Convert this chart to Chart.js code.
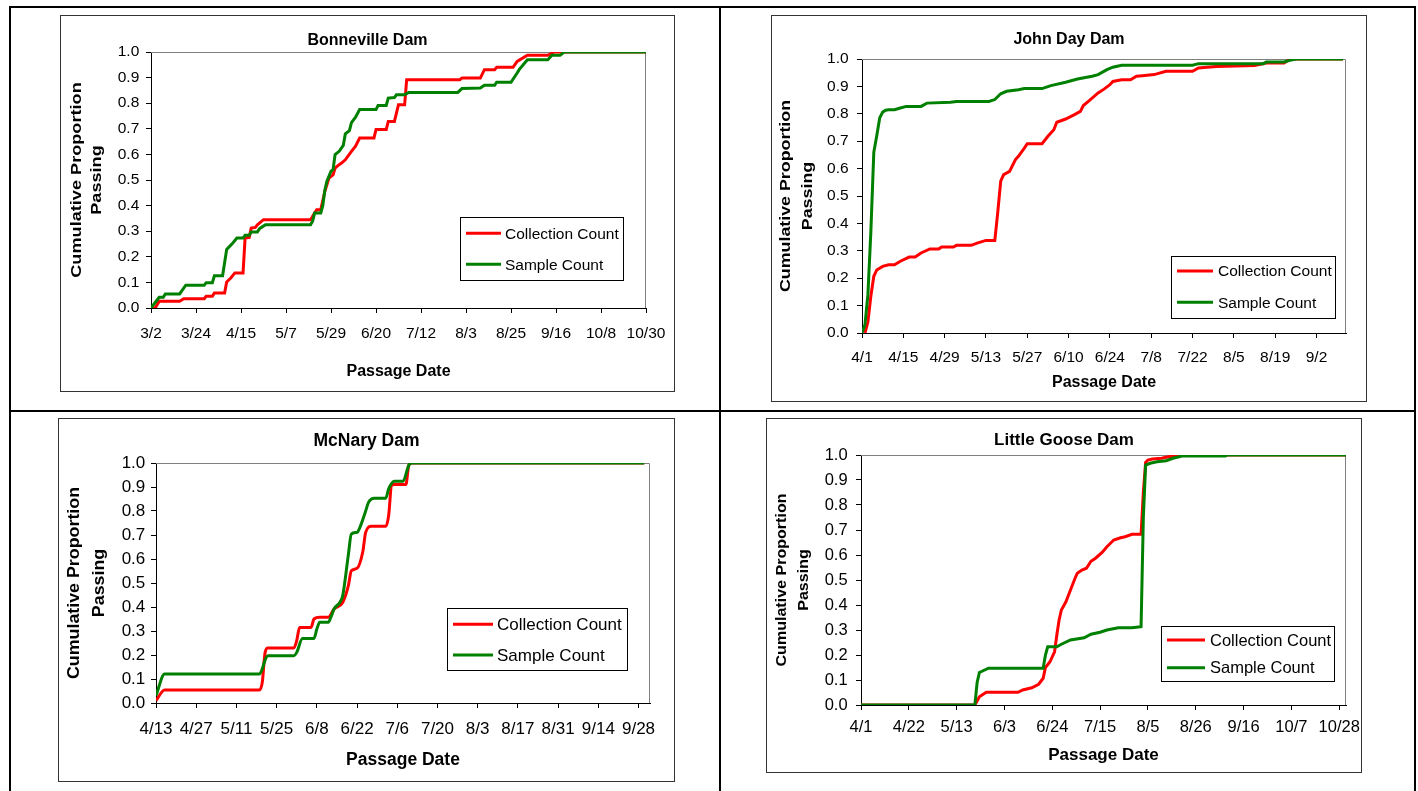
<!DOCTYPE html>
<html>
<head>
<meta charset="utf-8">
<title>Cumulative Proportion Passing</title>
<script src="https://cdn.jsdelivr.net/npm/chart.js@4.4.1/dist/chart.umd.min.js"></script>
<style>
  html, body { margin: 0; padding: 0; background: #fff; }
  body { position: relative; width: 1418px; height: 791px; overflow: hidden; }
  .rule { position: absolute; background: #000; }
  .frame { position: absolute; box-sizing: border-box; border: 1px solid #333; background: #fff; }
  .frame canvas { position: absolute; left: 0; top: 0; }
</style>
</head>
<body>
<div class="rule" style="left:9px;top:6px;width:2px;height:785px"></div>
<div class="rule" style="left:9px;top:6px;width:1407px;height:2px"></div>
<div class="rule" style="left:719px;top:6px;width:2px;height:785px"></div>
<div class="rule" style="left:1414px;top:6px;width:2px;height:785px"></div>
<div class="rule" style="left:9px;top:410px;width:1407px;height:2px"></div>

<script>
const FONT = "'Liberation Sans', Arial, sans-serif";

// ---- Bonneville Dam ----
const bonTicks = ['3/2', '3/24', '4/15', '5/7', '5/29', '6/20', '7/12', '8/3', '8/25', '9/16', '10/8', '10/30'];
const bonCollDates = ['3/2', '3/4', '3/6', '3/16', '3/18', '3/28', '3/29', '4/1', '4/2', '4/7', '4/8', '4/10', '4/12', '4/16', '4/17', '4/19', '4/20', '4/22', '4/23', '4/26', '5/19', '5/21', '5/22', '5/24', '5/26', '5/28', '5/30', '5/31', '6/2', '6/3', '6/5', '6/8', '6/10', '6/12', '6/19', '6/20', '6/25', '6/26', '6/29', '7/1', '7/4', '7/5', '7/31', '8/1', '8/10', '8/12', '8/17', '8/18', '8/26', '8/28', '9/2', '9/12', '9/15', '10/30'];
const bonCollValues = [0, 0, 0.026, 0.026, 0.036, 0.036, 0.046, 0.046, 0.059, 0.059, 0.102, 0.117, 0.137, 0.137, 0.273, 0.276, 0.312, 0.315, 0.325, 0.345, 0.345, 0.371, 0.384, 0.384, 0.456, 0.508, 0.52, 0.547, 0.56, 0.565, 0.579, 0.612, 0.632, 0.664, 0.664, 0.697, 0.697, 0.729, 0.729, 0.794, 0.794, 0.892, 0.892, 0.898, 0.898, 0.931, 0.931, 0.94, 0.94, 0.963, 0.987, 0.987, 1, 1];
const bonSampDates = ['3/2', '3/6', '3/8', '3/9', '3/16', '3/19', '3/28', '3/29', '4/1', '4/2', '4/6', '4/8', '4/11', '4/13', '4/16', '4/17', '4/19', '4/20', '4/23', '4/24', '4/25', '4/27', '5/19', '5/20', '5/21', '5/24', '5/25', '5/26', '5/27', '5/29', '5/30', '5/31', '6/2', '6/4', '6/5', '6/7', '6/8', '6/10', '6/12', '6/20', '6/21', '6/25', '6/26', '6/29', '6/30', '7/4', '7/6', '7/30', '8/1', '8/10', '8/12', '8/17', '8/18', '8/25', '8/28', '8/29', '9/2', '9/12', '9/14', '9/18', '9/20', '10/30'];
const bonSampValues = [0, 0.042, 0.042, 0.055, 0.055, 0.089, 0.089, 0.099, 0.099, 0.126, 0.126, 0.229, 0.254, 0.273, 0.273, 0.284, 0.284, 0.297, 0.297, 0.309, 0.315, 0.325, 0.325, 0.339, 0.371, 0.371, 0.401, 0.461, 0.495, 0.534, 0.54, 0.599, 0.612, 0.635, 0.68, 0.693, 0.724, 0.745, 0.775, 0.775, 0.791, 0.791, 0.82, 0.822, 0.833, 0.833, 0.842, 0.842, 0.857, 0.859, 0.87, 0.87, 0.882, 0.882, 0.918, 0.931, 0.97, 0.97, 0.987, 0.987, 1, 1];

// ---- John Day Dam ----
const jdTicks = ['4/1', '4/15', '4/29', '5/13', '5/27', '6/10', '6/24', '7/8', '7/22', '8/5', '8/19', '9/2'];
const jdCollDates = ['4/2', '4/3', '4/4', '4/5', '4/6', '4/8', '4/10', '4/12', '4/14', '4/17', '4/19', '4/21', '4/24', '4/27', '4/28', '5/2', '5/3', '5/8', '5/10', '5/13', '5/16', '5/17', '5/18', '5/19', '5/21', '5/23', '5/24', '5/26', '5/27', '6/1', '6/3', '6/5', '6/6', '6/9', '6/12', '6/14', '6/15', '6/17', '6/20', '6/22', '6/24', '6/25', '6/28', '7/1', '7/3', '7/5', '7/9', '7/13', '7/22', '7/24', '7/30', '8/12', '8/16', '8/22', '8/24', '9/11'];
const jdCollValues = [0, 0.04, 0.135, 0.207, 0.23, 0.243, 0.249, 0.249, 0.262, 0.277, 0.277, 0.292, 0.307, 0.307, 0.314, 0.314, 0.32, 0.32, 0.328, 0.338, 0.338, 0.44, 0.554, 0.578, 0.59, 0.633, 0.645, 0.675, 0.691, 0.691, 0.718, 0.742, 0.769, 0.781, 0.797, 0.809, 0.83, 0.848, 0.876, 0.89, 0.906, 0.918, 0.924, 0.924, 0.937, 0.939, 0.943, 0.955, 0.955, 0.967, 0.973, 0.976, 0.985, 0.985, 1, 1];
const jdSampDates = ['4/1', '4/2', '4/3', '4/4', '4/5', '4/6', '4/7', '4/8', '4/9', '4/10', '4/12', '4/14', '4/16', '4/21', '4/23', '5/1', '5/3', '5/14', '5/16', '5/18', '5/20', '5/24', '5/26', '6/1', '6/4', '6/9', '6/13', '6/18', '6/20', '6/23', '6/25', '6/28', '7/22', '7/24', '8/15', '8/16', '8/22', '8/24', '8/26', '9/11'];
const jdSampValues = [0, 0.03, 0.14, 0.37, 0.66, 0.72, 0.785, 0.806, 0.813, 0.815, 0.815, 0.821, 0.827, 0.827, 0.839, 0.842, 0.845, 0.845, 0.852, 0.873, 0.882, 0.888, 0.892, 0.892, 0.903, 0.915, 0.927, 0.937, 0.943, 0.961, 0.97, 0.977, 0.977, 0.983, 0.983, 0.989, 0.989, 0.995, 1, 1];

// ---- McNary Dam ----
const mcTicks = ['4/13', '4/27', '5/11', '5/25', '6/8', '6/22', '7/6', '7/20', '8/3', '8/17', '8/31', '9/14', '9/28'];
const mcCollDates = ['4/13', '4/16', '5/19', '5/20', '5/21', '5/22', '5/31', '6/1', '6/2', '6/6', '6/7', '6/9', '6/12', '6/14', '6/17', '6/19', '6/20', '6/22', '6/24', '6/25', '6/27', '7/2', '7/3', '7/4', '7/5', '7/9', '7/10', '7/11', '9/30'];
const mcCollValues = [0.01, 0.054, 0.054, 0.086, 0.211, 0.229, 0.229, 0.26, 0.315, 0.315, 0.35, 0.357, 0.357, 0.392, 0.419, 0.49, 0.551, 0.561, 0.63, 0.711, 0.736, 0.736, 0.781, 0.906, 0.91, 0.91, 0.99, 1, 1];
const mcSampDates = ['4/13', '4/16', '5/19', '5/20', '5/21', '5/22', '5/31', '6/1', '6/3', '6/7', '6/8', '6/9', '6/12', '6/13', '6/14', '6/16', '6/17', '6/19', '6/20', '6/22', '6/23', '6/25', '6/26', '6/28', '7/2', '7/3', '7/5', '7/8', '7/10', '7/11', '9/30'];
const mcSampValues = [0.031, 0.121, 0.121, 0.142, 0.18, 0.197, 0.197, 0.211, 0.269, 0.269, 0.308, 0.336, 0.336, 0.361, 0.392, 0.419, 0.447, 0.62, 0.704, 0.711, 0.732, 0.8, 0.836, 0.853, 0.853, 0.892, 0.924, 0.924, 0.99, 1, 1];

// ---- Little Goose Dam ----
const lgTicks = ['4/1', '4/22', '5/13', '6/3', '6/24', '7/15', '8/5', '8/26', '9/16', '10/7', '10/28'];
const lgCollDates = ['4/1', '5/21', '5/23', '5/26', '6/9', '6/11', '6/15', '6/18', '6/20', '6/21', '6/23', '6/25', '6/26', '6/27', '6/28', '6/30', '7/2', '7/4', '7/5', '7/7', '7/9', '7/11', '7/13', '7/16', '7/18', '7/21', '7/24', '7/26', '7/29', '8/2', '8/3', '8/4', '8/5', '8/7', '8/11', '8/14', '8/20', '10/31'];
const lgCollValues = [0, 0, 0.033, 0.051, 0.051, 0.06, 0.069, 0.083, 0.107, 0.15, 0.173, 0.213, 0.28, 0.34, 0.38, 0.413, 0.46, 0.507, 0.527, 0.54, 0.547, 0.575, 0.587, 0.611, 0.633, 0.66, 0.669, 0.673, 0.683, 0.683, 0.85, 0.97, 0.98, 0.984, 0.987, 0.993, 1, 1];
const lgSampDates = ['4/1', '5/21', '5/22', '5/23', '5/27', '6/20', '6/21', '6/22', '6/26', '6/28', '7/2', '7/8', '7/11', '7/15', '7/18', '7/23', '7/29', '8/2', '8/3', '8/4', '8/6', '8/9', '8/13', '8/16', '8/20', '9/8', '9/9', '10/31'];
const lgSampValues = [0, 0, 0.09, 0.13, 0.147, 0.147, 0.2, 0.233, 0.233, 0.243, 0.26, 0.269, 0.283, 0.291, 0.3, 0.309, 0.309, 0.313, 0.75, 0.96, 0.967, 0.973, 0.977, 0.987, 0.996, 0.996, 1, 1];

// month/day -> day of year (x axis is days)
const monthStart = [0, 31, 59, 90, 120, 151, 181, 212, 243, 273, 304, 334];
function toDay(md) {
  const [m, d] = md.split('/').map(Number);
  return monthStart[m - 1] + d;
}
function points(dates, values) {
  return dates.map((d, i) => ({ x: toDay(d), y: values[i] }));
}

// plot border, y axis title and in-plot legend
const decor = {
  id: 'decor',
  beforeDatasetsDraw(chart, args, o) {
    const a = chart.chartArea, ctx = chart.ctx;
    ctx.save();
    ctx.strokeStyle = '#808080';
    ctx.lineWidth = 1;
    ctx.beginPath();
    ctx.moveTo(a.left, a.top + 0.5);
    ctx.lineTo(a.right - 0.5, a.top + 0.5);
    ctx.lineTo(a.right - 0.5, a.bottom);
    ctx.stroke();
    ctx.restore();
  },
  afterDraw(chart, args, o) {
    const a = chart.chartArea, ctx = chart.ctx;
    ctx.save();
    ctx.fillStyle = '#000';
    ctx.font = 'bold ' + o.yTitleSize + 'px ' + FONT;
    ctx.textAlign = 'center';
    ctx.textBaseline = 'middle';
    const cy = (a.top + a.bottom) / 2;
    o.yTitle.forEach((line, i) => {
      ctx.save();
      ctx.translate(o.yTitleX[i], cy);
      ctx.rotate(-Math.PI / 2);
      ctx.scale(o.yTitleStretch, 1);
      ctx.fillText(line, 0, 0);
      ctx.restore();
    });

    const L = o.legend;
    ctx.fillStyle = '#fff';
    ctx.fillRect(L.l, L.t, L.r - L.l, L.b - L.t);
    ctx.strokeStyle = '#000';
    ctx.lineWidth = 1;
    ctx.strokeRect(Math.round(L.l) + 0.5, Math.round(L.t) + 0.5, Math.round(L.r - L.l), Math.round(L.b - L.t));
    ctx.font = L.size + 'px ' + FONT;
    ctx.textAlign = 'left';
    chart.data.datasets.forEach((ds, i) => {
      const y = L.rows[i];
      ctx.strokeStyle = ds.borderColor;
      ctx.lineWidth = ds.borderWidth;
      ctx.beginPath();
      ctx.moveTo(L.x0, y);
      ctx.lineTo(L.x1, y);
      ctx.stroke();
      ctx.fillStyle = '#000';
      ctx.fillText(ds.label, L.textX, y + 1);
    });
    ctx.restore();
  }
};

function buildChart(cfg) {
  const f = cfg.frame;
  const box = document.createElement('div');
  box.className = 'frame';
  box.style.left = f.x + 'px';
  box.style.top = f.y + 'px';
  box.style.width = f.w + 'px';
  box.style.height = f.h + 'px';
  const cv = document.createElement('canvas');
  const W = f.w - 2, H = f.h - 2, ox = f.x + 1, oy = f.y + 1;
  cv.width = W;
  cv.height = H;
  box.appendChild(cv);
  document.body.appendChild(box);

  const p = {
    l: Math.round(cfg.plot.l - ox), t: Math.round(cfg.plot.t - oy),
    r: Math.round(cfg.plot.r - ox), b: Math.round(cfg.plot.b - oy)
  };
  const tickDays = cfg.ticks.map(toDay);
  const labelOf = {};
  cfg.ticks.forEach(t => { labelOf[toDay(t)] = t; });
  const fs = cfg.fonts;
  const tickLH = fs.tick * 1.2, titleLH = fs.title * 1.2, axisLH = fs.axis * 1.2;
  const titleY = cfg.titleY - oy;
  const lg = cfg.legend;

  const line = (label, pts, color, order) => ({
    label, data: pts, borderColor: color, backgroundColor: color,
    borderWidth: 3, pointRadius: 0, fill: false, order,
    tension: cfg.smooth ? 0.4 : 0,
    cubicInterpolationMode: cfg.smooth ? 'monotone' : 'default'
  });

  new Chart(cv, {
    type: 'line',
    data: {
      datasets: [
        line('Collection Count', points(cfg.coll[0], cfg.coll[1]), '#ff0000', 1),
        line('Sample Count', points(cfg.samp[0], cfg.samp[1]), '#008000', 0)
      ]
    },
    options: {
      responsive: false,
      animation: false,
      devicePixelRatio: 1,
      layout: { padding: 0 },
      plugins: {
        legend: { display: false },
        tooltip: { enabled: false },
        title: {
          display: true, text: cfg.title, color: '#000',
          font: { family: FONT, size: fs.title, weight: 'bold' },
          padding: { top: titleY - titleLH / 2, bottom: p.t - titleY - titleLH / 2 }
        },
        decor: {
          yTitle: ['Cumulative Proportion', 'Passing'],
          yTitleX: cfg.yTitleX.map(v => v - ox),
          yTitleSize: fs.yTitle,
          yTitleStretch: cfg.yStretch,
          legend: {
            l: lg.l - ox, t: lg.t - oy, r: lg.r - ox, b: lg.b - oy,
            x0: lg.x0 - ox, x1: lg.x1 - ox, textX: lg.textX - ox,
            rows: lg.rows.map(v => v - oy), size: fs.legend
          }
        }
      },
      scales: {
        x: {
          type: 'linear',
          min: toDay(cfg.xMin), max: toDay(cfg.xMax),
          afterBuildTicks: s => { s.ticks = tickDays.map(v => ({ value: v })); },
          afterFit: s => { s.height = H - p.b; s.paddingLeft = 0; s.paddingRight = 0; },
          ticks: {
            callback: v => labelOf[v], color: '#000', autoSkip: false, maxRotation: 0,
            font: { family: FONT, size: fs.tick },
            padding: cfg.xLabelY - cfg.plot.b - 5 - tickLH / 2
          },
          grid: { drawOnChartArea: false, tickLength: 5, color: '#000' },
          border: { color: '#000', width: 1 },
          title: {
            display: true, text: 'Passage Date', color: '#000',
            font: { family: FONT, size: fs.axis, weight: 'bold' },
            padding: { top: 0, bottom: (f.y + f.h - 1) - cfg.xTitleY - axisLH / 2 }
          }
        },
        y: {
          min: 0, max: 1,
          afterFit: s => { s.width = p.l; s.paddingTop = 0; s.paddingBottom = 0; },
          ticks: {
            stepSize: 0.1, autoSkip: false, color: '#000',
            callback: v => v.toFixed(1),
            font: { family: FONT, size: fs.tick },
            padding: cfg.plot.l - cfg.yTickRight - 5
          },
          grid: { drawOnChartArea: false, tickLength: 5, color: '#000' },
          border: { color: '#000', width: 1 }
        },
        // empty right-hand box: keeps the margin right of the plot while the title stays centred on the frame
        margin: {
          type: 'linear', position: 'right', min: 0, max: 1,
          afterFit: s => { s.width = W - p.r; s.paddingTop = 0; s.paddingBottom = 0; },
          ticks: { display: false },
          grid: { display: false },
          border: { display: false }
        }
      }
    },
    plugins: [decor]
  });
}

buildChart({
  title: 'Bonneville Dam', ticks: bonTicks, xMin: '3/2', xMax: '10/30',
  coll: [bonCollDates, bonCollValues], samp: [bonSampDates, bonSampValues],
  frame: { x: 60, y: 15, w: 615, h: 377 },
  plot: { l: 150.7, t: 52.3, r: 646, b: 308.3 },
  titleY: 41, xLabelY: 334, xTitleY: 371.5, yTickRight: 139,
  yTitleX: [76.5, 97], yStretch: 1.17,
  fonts: { title: 16, axis: 16, tick: 15.5, legend: 15.5, yTitle: 15.5 },
  legend: { l: 459.5, t: 216.7, r: 622, b: 280, x0: 466, x1: 501, textX: 505, rows: [233.3, 264.3] }
});

buildChart({
  title: 'John Day Dam', ticks: jdTicks, xMin: '4/1', xMax: '9/12',
  coll: [jdCollDates, jdCollValues], samp: [jdSampDates, jdSampValues],
  frame: { x: 771, y: 15, w: 596, h: 387 },
  plot: { l: 861.7, t: 59.3, r: 1346, b: 333.3 },
  titleY: 40, xLabelY: 358, xTitleY: 383, yTickRight: 848.3,
  yTitleX: [786, 808], yStretch: 1.15,
  fonts: { title: 16, axis: 16, tick: 15.5, legend: 15.5, yTitle: 15.5 },
  legend: { l: 1171, t: 255.7, r: 1335.3, b: 317.3, x0: 1177, x1: 1213, textX: 1218, rows: [271, 302.3] }
});

buildChart({
  title: 'McNary Dam', ticks: mcTicks, xMin: '4/13', xMax: '10/2', smooth: true,
  coll: [mcCollDates, mcCollValues], samp: [mcSampDates, mcSampValues],
  frame: { x: 58, y: 418, w: 617, h: 364 },
  plot: { l: 156, t: 462.5, r: 649.6, b: 703 },
  titleY: 441, xLabelY: 729, xTitleY: 760, yTickRight: 145.3,
  yTitleX: [74, 99], yStretch: 1.08,
  fonts: { title: 17.5, axis: 17.5, tick: 17, legend: 17, yTitle: 16.5 },
  legend: { l: 446.7, t: 608.3, r: 626.4, b: 670, x0: 453, x1: 493, textX: 497, rows: [624.3, 655] }
});

buildChart({
  title: 'Little Goose Dam', ticks: lgTicks, xMin: '4/1', xMax: '10/31',
  coll: [lgCollDates, lgCollValues], samp: [lgSampDates, lgSampValues],
  frame: { x: 766, y: 418, w: 596, h: 355 },
  plot: { l: 860.9, t: 454.5, r: 1346, b: 705 },
  titleY: 440, xLabelY: 727, xTitleY: 755, yTickRight: 847.5,
  yTitleX: [781.5, 804], yStretch: 1.07,
  fonts: { title: 17, axis: 17, tick: 16.5, legend: 16.5, yTitle: 15 },
  legend: { l: 1161.2, t: 625.7, r: 1334.5, b: 680.7, x0: 1167, x1: 1205, textX: 1210, rows: [640, 667.7] }
});
</script>
</body>
</html>
